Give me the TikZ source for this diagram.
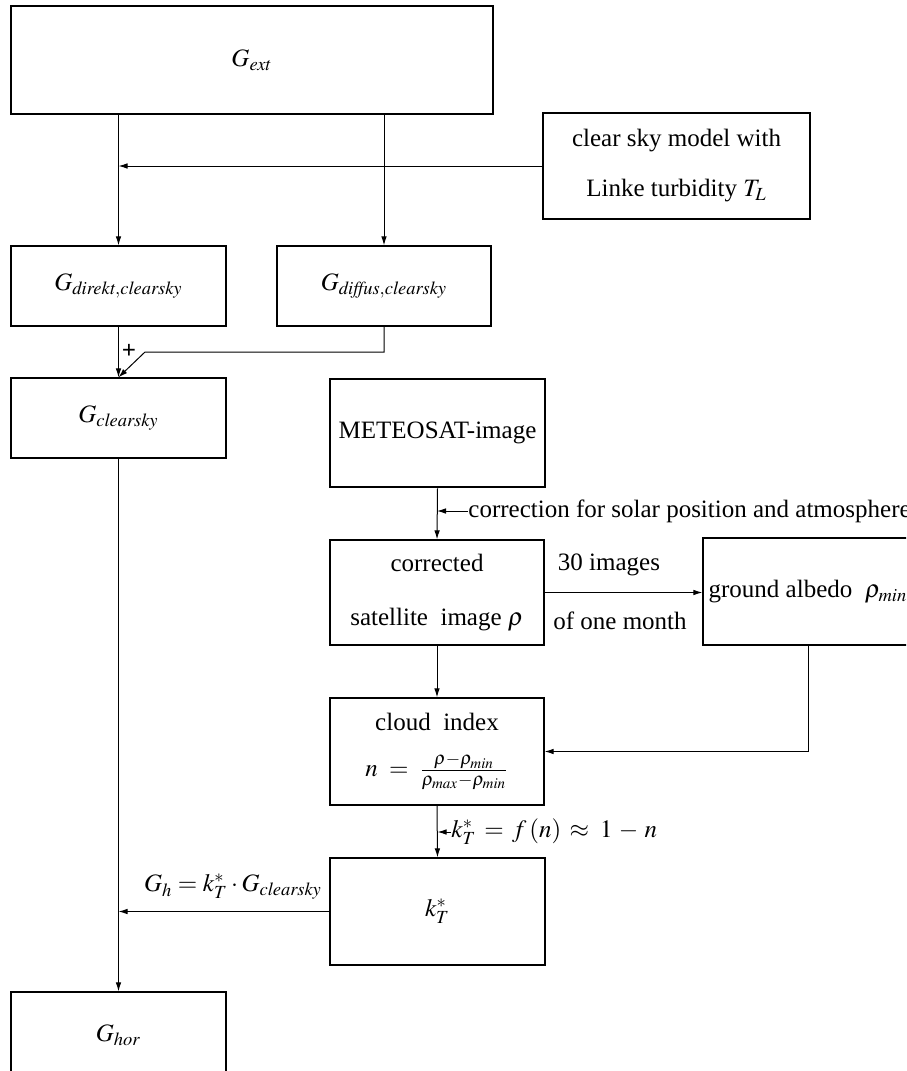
\documentclass[tikz,border=0pt]{standalone}
\usepackage{mathptmx}
\usepackage{fontspec}
\setmainfont{Liberation Serif}
\usetikzlibrary{arrows.meta}

\begin{document}
\begin{tikzpicture}[x=0.5pt, y=-0.5pt,
    every node/.style={font=\fontsize{12.5}{15}\selectfont, inner sep=0pt},
    box/.style={draw, line width=0.65pt, align=center},
    bigbox/.style={box, line width=1.25pt},
    arr/.style={line width=0.5pt, -{Latex[length=4.5pt,width=2.8pt]}}]
  \useasboundingbox (0,0) rectangle (906,1071);
  \clip (0,0) rectangle (906,1071); % cut the right and bottom edge

  \node[bigbox, minimum width=241pt, minimum height=54pt] (gext) at (252,60) {$G_{ext}$};
  \node[box, minimum width=133.5pt, minimum height=53pt] (model) at (676.5,166)
    {clear sky model with\\[10pt] Linke turbidity $T_L$};
  \node[box, minimum width=107.5pt, minimum height=40pt] (direkt) at (118.5,286) {$G_{\mathit{direkt},\mathit{clearsky}}$};
  \node[box, minimum width=107pt, minimum height=40pt] (diffus) at (384,286) {$G_{\mathit{diffus},\mathit{clearsky}}$};
  \node[box, minimum width=107.5pt, minimum height=40pt] (clrsky) at (118.5,418) {$G_{\mathit{clearsky}}$};
  \node[bigbox, minimum width=107.5pt, minimum height=54pt] (meteo) at (437.5,433) {METEOSAT-image};
  \node[box, minimum width=107pt, minimum height=52.5pt] (corr) at (437,592.5)
    {corrected\\[12pt] satellite~ image $\rho$};
  \node[box, minimum width=105pt, minimum height=53.5pt] (albedo) at (808,591.5) {ground albedo~ $\rho_{min}$};
  \node[box, minimum width=107pt, minimum height=53.5pt] (cloud) at (437,751.5)
    {cloud~ index\\[8pt] $n\;=\;\frac{\rho-\rho_{min}}{\rho_{max}-\rho_{min}}$};
  \node[box, minimum width=107.5pt, minimum height=53.5pt] (kt) at (437.5,911.5) {$k_T^{*}$};
  \node[box, minimum width=107.5pt, minimum height=43pt] (hor) at (118.5,1035) {$G_{hor}$};

  % side labels
  \node[anchor=west] (corrtxt) at (468,511) {correction for solar position and atmosphere};
  \node (imgs) at (609,565) {30 images};
  \node (month) at (620,621) {of one month};
  \node[anchor=west] (kttxt) at (451,832) {$k_T^{*}\,=\,f\,(n)\,\approx\;1\,-\,n$};
  \node (ghtxt) at (233,887) {$G_h = k_T^{*}\cdot G_{\mathit{clearsky}}$};
  \node (plus) at (129,351) {\textbf{+}};
  \coordinate (jn) at (145,352);

  \draw[arr] (direkt.north |- gext.south) -- (direkt.north);
  \draw[arr] (diffus.north |- gext.south) -- (diffus.north);
  \draw[arr] (model.west) -- (model.west -| direkt.north);
  \draw[arr] (direkt.south) -- (clrsky.north);
  \draw[arr] (diffus.south) |- (jn) -- (clrsky.north);
  \draw[arr] (meteo.south) -- (corr.north);
  \draw[arr] (corrtxt.west) -- (corrtxt.west -| corr.north);
  \draw[arr] (corr.east) -- (corr.east -| albedo.west);
  \draw[arr] (albedo.south) |- (cloud.east);
  \draw[arr] (corr.south) -- (cloud.north);
  \draw[arr] (cloud.south) -- (kt.north);
  \draw[arr] (kttxt.west) -- (kttxt.west -| kt.north);
  \draw[arr] (kt.west) -- (kt.west -| clrsky.south);
  \draw[arr] (clrsky.south) -- (hor.north);
\end{tikzpicture}
\end{document}
